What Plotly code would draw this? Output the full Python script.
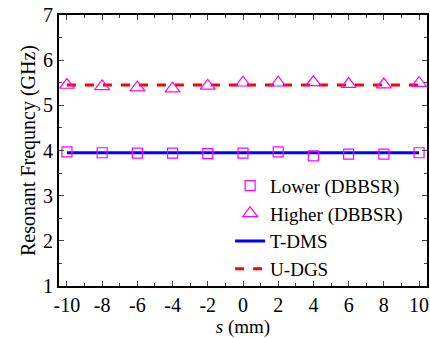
import plotly.graph_objects as go

s_vals = [-10, -8, -6, -4, -2, 0, 2, 4, 6, 8, 10]
s_labels = ["-10", "-8", "-6", "-4", "-2", "0", "2", "4", "6", "8", "10"]
lower_dbbsr = [3.97, 3.95, 3.94, 3.94, 3.93, 3.94, 3.97, 3.88, 3.92, 3.92, 3.95]
higher_dbbsr = [5.45, 5.42, 5.39, 5.37, 5.43, 5.50, 5.50, 5.51, 5.47, 5.46, 5.49]
tdms_val = 3.95
udgs_val = 5.45

font = "Liberation Serif, Times New Roman, Times, serif"

fig = go.Figure()
fig.add_trace(go.Scatter(x=s_vals, y=[tdms_val] * len(s_vals), mode="lines", name="T-DMS", legendrank=3,
                         line=dict(color="#0000ff", width=3)))
fig.add_trace(go.Scatter(x=s_vals, y=[udgs_val] * len(s_vals), mode="lines", name="U-DGS", legendrank=4,
                         line=dict(color="#ff0000", width=3, dash="dash")))
fig.add_trace(go.Scatter(x=s_vals, y=lower_dbbsr, mode="markers", name="Lower (DBBSR)", legendrank=1,
                         marker=dict(symbol="square-open", size=10, color="#ff00ff", line=dict(width=1.2))))
fig.add_trace(go.Scatter(x=s_vals, y=higher_dbbsr, mode="markers", name="Higher (DBBSR)", legendrank=2,
                         marker=dict(symbol="triangle-up-open", size=13, color="#ff00ff", line=dict(width=1.2))))

fig.update_layout(
    width=430, height=338,
    margin=dict(l=59, r=3, t=15, b=52),
    paper_bgcolor="white", plot_bgcolor="white",
    font=dict(family=font, size=18, color="black"),
    showlegend=True,
    legend=dict(x=0.465, y=0.44, xanchor="left", yanchor="top", bgcolor="rgba(0,0,0,0)",
                font=dict(size=19), tracegroupgap=0, itemwidth=30),
)
fig.update_xaxes(range=[-10.45, 10.45], tickvals=s_vals, ticktext=s_labels, ticks="inside", ticklen=5,
                 showline=True, linecolor="black", linewidth=2, mirror="ticks", showgrid=False, zeroline=False,
                 minor=dict(ticks="inside", ticklen=3, dtick=1, tick0=0), automargin=False,
                 tickfont=dict(size=20),
                 title=dict(text="<i>s</i> (mm)", standoff=0, font=dict(size=19)))
fig.update_yaxes(range=[1, 7], dtick=1, ticks="inside", ticklen=5,
                 showline=True, linecolor="black", linewidth=2, mirror="ticks", showgrid=False, zeroline=False,
                 minor=dict(ticks="inside", ticklen=3, dtick=0.5), automargin=False,
                 tickfont=dict(size=20),
                 title=dict(text="Resonant Frequncy (GHz)", standoff=2, font=dict(size=20)))
fig.write_html("out.html", config={"displayModeBar": False},
               post_script="document.body.style.margin='0';")
